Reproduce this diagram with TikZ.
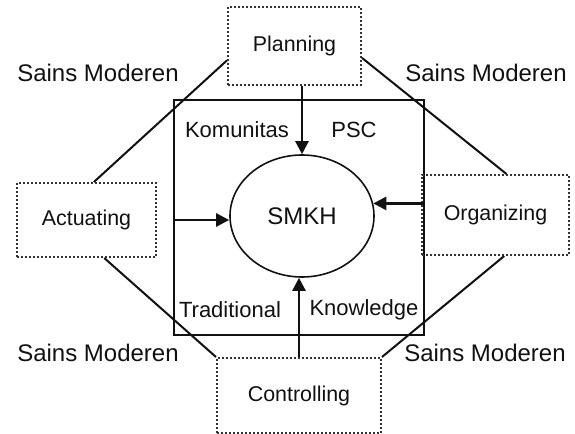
\documentclass[tikz,border=0pt]{standalone}
\usepackage{fontspec}
\setmainfont{Liberation Sans}
\usetikzlibrary{arrows.meta,shapes.geometric}
\definecolor{ink}{HTML}{111111}
\definecolor{dotgray}{HTML}{333333}
\tikzset{
  stagebox/.style={draw=dotgray,densely dotted,line width=1pt,
                   align=center,inner sep=0pt,text=ink,
                   font=\fontsize{10.7}{12}\selectfont},
  hubnode/.style={ellipse,draw=ink,line width=0.8pt,inner sep=0pt,
                  minimum width=72pt,minimum height=61pt,text=ink,
                  font=\fontsize{12}{14}\selectfont},
  framebox/.style={draw=ink,line width=0.7pt,inner sep=0pt,
                   minimum width=125pt,minimum height=117.5pt},
  innerlabel/.style={text=ink,inner sep=0pt,font=\fontsize{11}{13}\selectfont},
  sidelabel/.style={text=ink,inner sep=0pt,font=\fontsize{12}{14}\selectfont},
  inkarr/.style={-{Triangle[length=6.5pt,width=6.5pt]},line width=1.2pt,draw=ink},
  linkline/.style={line width=1pt,draw=ink}
}
\begin{document}
\begin{tikzpicture}[x=0.5pt,y=-0.5pt]
    \path[use as bounding box] (0,0) rectangle (575,434);
    % centre frame and ellipse
    \node[framebox] (frame) at (299,217.5) {};
    \node[hubnode] (ell) at (302,216) {SMKH};
    % the four stages
    \node[stagebox,minimum width=66.5pt,minimum height=39pt] (plan) at (294.5,46)
      {Planning};
    \node[stagebox,minimum width=69.5pt,minimum height=37pt] (act) at (86.5,220)
      {Actuating};
    \node[stagebox,minimum width=73.5pt,minimum height=40pt] (org) at (495.5,215)
      {Organizing};
    \node[stagebox,minimum width=82pt,minimum height=37.5pt] (ctrl) at (299,395.5)
      {Controlling};
    % labels inside the frame
    \node[innerlabel] (kom) at (237,130) {Komunitas};
    \node[innerlabel] (psc) at (354,130) {PSC};
    \node[innerlabel] (trad) at (230,310) {Traditional};
    \node[innerlabel] (know) at (364,310) {Knowledge};
    % labels outside
    \node[sidelabel] (smtl) at (98,73) {Sains Moderen};
    \node[sidelabel] (smtr) at (486,73) {Sains Moderen};
    \node[sidelabel] (smbl) at (98,353) {Sains Moderen};
    \node[sidelabel] (smbr) at (485,353) {Sains Moderen};
    % arrows into SMKH
    \draw[inkarr] (ell.north |- plan.south) -- (ell.north);
    \draw[inkarr] (frame.west |- act.east) -- (ell.west |- act.east);
    \draw[inkarr] (frame.east |- ell.10) -- (ell.10);
    \draw[inkarr] (ctrl.north) -- (ctrl.north |- ell.south);
    % octagon links
    \draw[linkline] (plan.192) -- (act.79);
    \draw[linkline] (plan.-10) -- (org.75);
    \draw[linkline] (act.-65) -- (ctrl.north west);
    \draw[linkline] (org.-78) -- (ctrl.north east);
  \end{tikzpicture}
\end{document}
